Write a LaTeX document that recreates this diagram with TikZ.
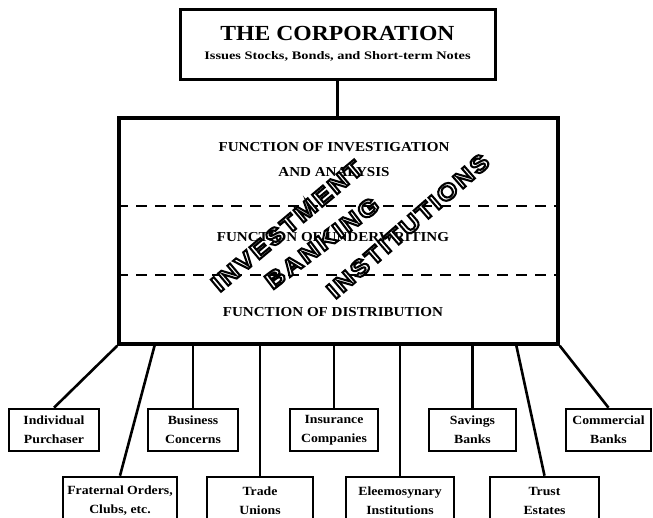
\documentclass[tikz,border=0pt]{standalone}
\usepackage{fontspec}
\setmainfont{Liberation Serif}[FakeStretch=1.1]
\newfontfamily\widefont[FakeStretch=1.25]{Liberation Serif}
\newfontfamily\wmfont[FakeStretch=1.15,LetterSpace=9,FakeBold=9]{Liberation Sans Bold}
\newcommand{\wmtext}[1]{\special{pdf:bcolor [1] [0]}#1\special{pdf:ecolor}}
\begin{document}
\begin{tikzpicture}[x=1pt,y=-1pt,
  box/.style={draw,line width=2.6pt,fill=white,inner sep=0pt,align=center,
    font=\bfseries\fontsize{12.5}{19}\selectfont},
  bigbox/.style={draw,line width=3.5pt,inner sep=0pt},
  ftext/.style={inner sep=0pt,align=center,font=\bfseries\fontsize{13.7}{25}\selectfont},
  wm/.style={inner sep=0pt,font=\wmfont\fontsize{23}{23}\selectfont},
  link/.style={line width=2.6pt},
  dashline/.style={line width=2.8pt,dash pattern=on 11pt off 8pt}]
\useasboundingbox (0,0) rectangle (653,517);
\clip (0,0) rectangle (653,517);
% top box
\node[draw,line width=3pt,inner sep=0pt,minimum width=315,minimum height=70,align=center] (corp) at (337.5,44)
  {{\bfseries\fontsize{21.5}{21.5}\selectfont THE CORPORATION}\\[7pt]
   {\widefont\bfseries\fontsize{11.5}{11.5}\selectfont Issues Stocks, Bonds, and Short-term Notes}};
% big box
\node[bigbox,minimum width=439,minimum height=226] (ibi) at (338.5,231) {};
\draw[link] (corp.south) -- (corp.south |- ibi.north);
\draw[dashline] (ibi.west |- 0,206) -- (ibi.east |- 0,206);
\draw[dashline] (ibi.west |- 0,275) -- (ibi.east |- 0,275);
\node[ftext] (f1) at (334,159.5) {FUNCTION OF INVESTIGATION\\AND ANALYSIS};
\node[ftext] (f2) at (333,237) {FUNCTION OF UNDERWRITING};
\node[ftext] (f3) at (333,312) {FUNCTION OF DISTRIBUTION};
% watermark
\node[wm,rotate=40] (w1) at (287,226) {\wmtext{INVESTMENT}};
\node[wm,rotate=37] (w2) at (322,243) {\wmtext{BANKING}};
\node[wm,rotate=41] (w3) at (408,226) {\wmtext{INSTITUTIONS}};
% bottom boxes, top row
\node[box,minimum width=90,minimum height=42] (ind) at (54,430) {Individual\\Purchaser};
\node[box,minimum width=90,minimum height=42] (bus) at (193,430) {Business\\Concerns};
\node[box,minimum width=88,minimum height=42] (ins) at (334,430) {Insurance\\Companies};
\node[box,minimum width=87,minimum height=42] (sav) at (472.5,430) {Savings\\Banks};
\node[box,minimum width=85,minimum height=42] (com) at (608.5,430) {Commercial\\Banks};
% bottom row
\node[box,minimum width=114,minimum height=48] (fra) at (120,501) {Fraternal Orders,\\Clubs, etc.};
\node[box,minimum width=106,minimum height=48] (tra) at (260,501) {Trade\\Unions};
\node[box,minimum width=108,minimum height=48] (ele) at (400,501) {Eleemosynary\\Institutions};
\node[box,minimum width=109,minimum height=48] (tru) at (544.5,501) {Trust\\Estates};
% connectors
\coordinate (fratop) at (155,344);
\coordinate (trutop) at (516,344);
\draw[link] (ibi.south west) -- (ind.north);
\draw[link] (fratop) -- (fra.north);
\draw[link] (bus.north |- ibi.south) -- (bus.north);
\draw[link] (tra.north |- ibi.south) -- (tra.north);
\draw[link] (ins.north |- ibi.south) -- (ins.north);
\draw[link] (ele.north |- ibi.south) -- (ele.north);
\draw[link] (sav.north |- ibi.south) -- (sav.north);
\draw[link] (trutop) -- (tru.north);
\draw[link] (ibi.south east) -- (com.north);
\end{tikzpicture}
\end{document}
